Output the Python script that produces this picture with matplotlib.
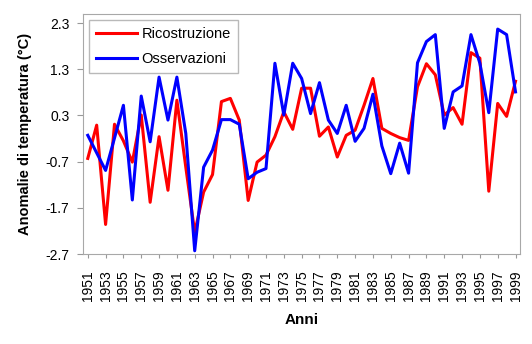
import numpy as np
import matplotlib
matplotlib.use("Agg")
import matplotlib.pyplot as plt

plt.rcParams['font.family'] = ['Liberation Sans', 'DejaVu Sans']

years = list(range(1951, 2000))

ricostruzione = [-0.63, 0.09, -2.06, 0.11, -0.25, -0.71, 0.31, -1.58, -0.16, -1.32,
                 0.63, -0.82, -2.23, -1.36, -0.98, 0.60, 0.67, 0.20, -1.54, -0.71,
                 -0.56, -0.16, 0.38, 0.00, 0.89, 0.89, -0.15, 0.05, -0.60, -0.13,
                 -0.02, 0.52, 1.10, 0.02, -0.09, -0.18, -0.24, 0.92, 1.42, 1.18,
                 0.31, 0.47, 0.11, 1.66, 1.54, -1.34, 0.56, 0.28, 1.04]

osservazioni = [-0.13, -0.51, -0.89, -0.19, 0.52, -1.53, 0.72, -0.27, 1.13, 0.20,
                1.13, -0.09, -2.63, -0.82, -0.45, 0.21, 0.21, 0.11, -1.07, -0.93,
                -0.85, 1.43, 0.31, 1.43, 1.10, 0.34, 1.01, 0.20, -0.09, 0.52,
                -0.26, 0.02, 0.76, -0.36, -0.96, -0.30, -0.95, 1.44, 1.90, 2.05,
                0.02, 0.81, 0.94, 2.05, 1.43, 0.36, 2.17, 2.05, 0.81]

y_ticks = [-2.7, -1.7, -0.7, 0.3, 1.3, 2.3]

fig = plt.figure(figsize=(5.32, 3.44), dpi=100)
ax = fig.add_axes([0.1566, 0.2616, 0.8208, 0.6968])

x = np.arange(len(years))
ax.plot(x, ricostruzione, color="#ff0000", lw=2.2, label="Ricostruzione")
ax.plot(x, osservazioni, color="#0000ff", lw=2.2, label="Osservazioni")

ax.set_xlim(-0.5, len(years) - 0.5)
# frame goes a bit above the top tick, like the original
ax.set_ylim(-2.7, 2.49)
ax.set_yticks(y_ticks)
ax.set_yticklabels([f"{t:.1f}" for t in y_ticks], fontsize=10)
ax.set_xticks(x[::2])
ax.set_xticklabels([str(y) for y in years[::2]], rotation=90, fontsize=10)
ax.tick_params(axis="y", length=4, color="#999999", pad=6)
ax.tick_params(axis="x", length=3, color="#999999", pad=9)

for s in ax.spines.values():
    s.set_color("#a8a8a8")

ax.set_xlabel("Anni", fontsize=11, fontweight="bold", labelpad=8)
ax.set_ylabel("Anomalie di temperatura (°C)", fontsize=10.5, fontweight="bold",
              labelpad=10)

leg = ax.legend(loc="upper left", bbox_to_anchor=(0.013, 0.978), fontsize=10.5,
                fancybox=False, edgecolor="#a8a8a8", handlelength=2.8,
                borderaxespad=0.0, labelspacing=0.75, borderpad=0.5,
                handletextpad=0.3)
leg.get_frame().set_linewidth(1.0)

fig.savefig("out.png")
